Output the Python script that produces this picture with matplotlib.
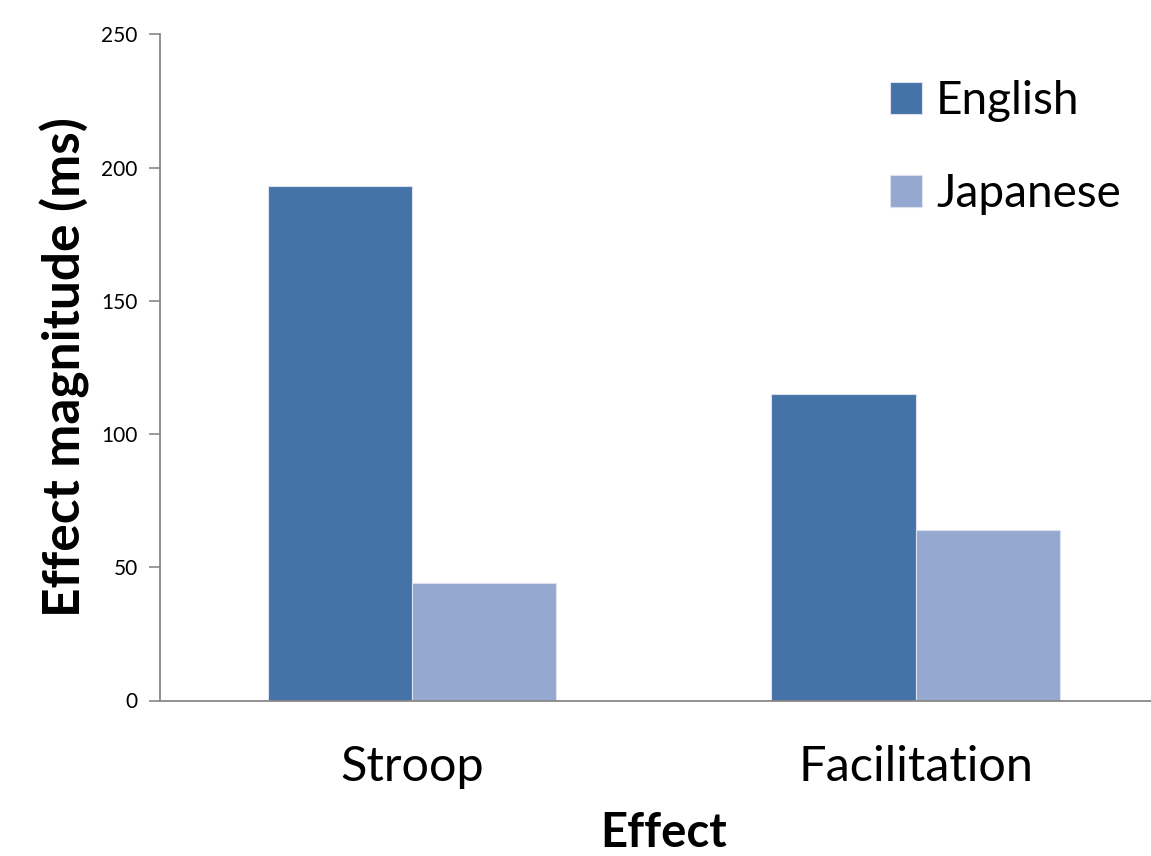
import matplotlib
matplotlib.use("Agg")
import matplotlib.pyplot as plt
import numpy as np

categories = ["Stroop", "Facilitation"]
series_names = ["English", "Japanese"]
english = [193, 115]
japanese = [44, 64]
y_ticks = [0, 50, 100, 150, 200, 250]

colors = ["#4572A7", "#95A9D0"]

plt.rcParams["font.family"] = ["Lato", "DejaVu Sans"]

W, H, DPI = 1151, 856, 100
fig = plt.figure(figsize=(W / DPI, H / DPI), dpi=DPI)

# axes box in pixel coordinates (left, bottom-from-top, right, top)
left_px, right_px, top_px, bottom_px = 160, 1167.4, 34.3, 700.5
ax = fig.add_axes([left_px / W, 1 - bottom_px / H,
                   (right_px - left_px) / W, (bottom_px - top_px) / H])

x = np.arange(len(categories))
bw = 0.286
for i, (vals, name) in enumerate(zip([english, japanese], series_names)):
    ax.bar(x + (i - 0.5) * bw, vals, width=bw, color=colors[i],
           edgecolor="#dce3ef", linewidth=0.8, label=name, zorder=2)

ax.set_xlim(-0.5, 1.5)
ax.set_ylim(0, 250)
ax.set_yticks(y_ticks)
ax.set_yticklabels([str(t) for t in y_ticks], fontsize=15)
ax.set_xticks(x)
ax.set_xticklabels(categories, fontsize=35)
ax.tick_params(axis="x", length=0, pad=32)
ax.tick_params(axis="y", length=8, width=1.2, color="#888888", pad=8)

for s in ["top", "right"]:
    ax.spines[s].set_visible(False)
for s in ["left", "bottom"]:
    ax.spines[s].set_color("#888888")
    ax.spines[s].set_linewidth(1.3)
ax.spines["left"].set_zorder(3)

ax.set_ylabel("Effect magnitude (ms)", fontsize=37, fontweight="bold", labelpad=8)
ax.set_xlabel("Effect", fontsize=34, fontweight="bold", labelpad=16)

leg = ax.legend(loc="upper left", bbox_to_anchor=(872 / W, 1 - 62 / H),
                bbox_transform=fig.transFigure, frameon=False, fontsize=33,
                handlelength=0.7, handleheight=0.7, handletextpad=0.3,
                labelspacing=1.1, borderaxespad=0)

fig.savefig("out.png", dpi=DPI)
